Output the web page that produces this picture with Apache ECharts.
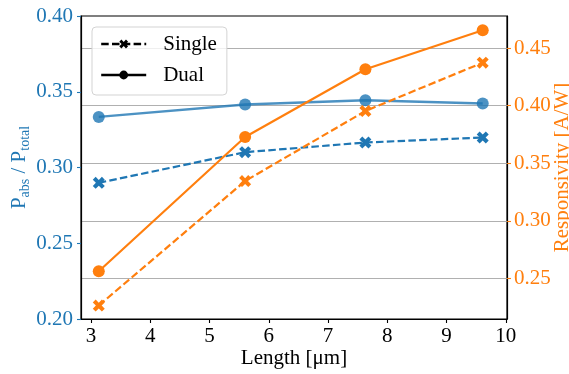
<!DOCTYPE html>
<html>
<head>
<meta charset="utf-8">
<script src="https://cdn.jsdelivr.net/npm/echarts@6/dist/echarts.min.js"></script>
<style>html,body{margin:0;padding:0;background:#fff}#c{width:569px;height:374px}</style>
</head>
<body>
<div id="c"></div>
<script>
const lengths = [3.13, 5.60, 7.63, 9.61];
const absDual = [0.3334, 0.3416, 0.3444, 0.3422];
const absSingle = [0.2899, 0.3101, 0.3165, 0.3198];
const respDual = [0.2562, 0.3727, 0.4315, 0.4654];
const respSingle = [0.2264, 0.3345, 0.3953, 0.4373];
const xTicks = [3, 4, 5, 6, 7, 8, 9, 10];
const leftTicks = [0.20, 0.25, 0.30, 0.35, 0.40];
const rightTicks = [0.25, 0.30, 0.35, 0.40, 0.45];
const legendNames = ['Single', 'Dual'];

const FONT = 'Liberation Serif';
const BLUE = '#1f77b4', ORANGE = '#ff7f0e';
const XSYM = 'path://M2.4,0L5,2.6L7.6,0L10,2.4L7.4,5L10,7.6L7.6,10L5,7.4L2.4,10L0,7.6L2.6,5L0,2.4Z';
const pair = ys => lengths.map((x, i) => [x, ys[i]]);
const fmt2 = v => Number(v).toFixed(2);

const chart = echarts.init(document.getElementById('c'), null, {renderer: 'canvas'});
chart.setOption({
  animation: false,
  textStyle: {fontFamily: FONT},
  grid: {left: 81, right: 62, top: 16, bottom: 55, outerBoundsMode: 'none', containLabel: false,
         show: true, borderColor: '#000', borderWidth: 1.2, backgroundColor: 'transparent'},
  legend: {
    orient: 'vertical', left: 92, top: 27,
    data: legendNames,
    selectedMode: false,
    itemWidth: 45, itemHeight: 11, itemGap: 9,
    padding: [6, 10, 9, 8],
    borderColor: '#d3d3d3', borderWidth: 1, borderRadius: 4,
    backgroundColor: 'rgba(255,255,255,0.8)',
    lineStyle: {width: 2.4},
    textStyle: {fontFamily: FONT, fontSize: 21, color: '#000', lineHeight: 22, padding: [0, 0, 0, 12]}
  },
  xAxis: {
    type: 'value', min: 2.83, max: 10.02,
    name: 'Length [μm]', nameLocation: 'middle', nameGap: 29, nameMoveOverlap: false,
    nameTextStyle: {fontFamily: FONT, fontSize: 21, color: '#000'},
    axisLine: {show: true, onZero: false, lineStyle: {color: '#000', width: 1.2}},
    axisTick: {show: true, length: 4, customValues: xTicks, lineStyle: {color: '#000', width: 1.1}},
    axisLabel: {customValues: xTicks, margin: 7, fontFamily: FONT, fontSize: 21, color: '#000'},
    splitLine: {show: false}
  },
  yAxis: [{
    type: 'value', min: 0.20, max: 0.40, position: 'left',
    name: '{m|P}{s|abs}{m| / P}{s|total}', nameLocation: 'middle', nameGap: 49, nameRotate: 90, nameMoveOverlap: false,
    nameTextStyle: {fontFamily: FONT, fontSize: 21, color: BLUE,
      rich: {m: {fontFamily: FONT, fontSize: 21, color: BLUE}, s: {fontFamily: FONT, fontSize: 14, color: BLUE, padding: [12, 0, 0, 0]}}},
    axisLine: {show: true, lineStyle: {color: '#000', width: 1.2}},
    axisTick: {show: true, length: 4, customValues: leftTicks, lineStyle: {color: BLUE, width: 1.1}},
    axisLabel: {customValues: leftTicks, margin: 8, formatter: fmt2, fontFamily: FONT, fontSize: 21, color: BLUE},
    splitLine: {show: false}
  }, {
    type: 'value', min: 0.2147, max: 0.4778, position: 'right',
    name: 'Responsivity [A/W]', nameLocation: 'middle', nameGap: 45, nameRotate: 90, nameMoveOverlap: false,
    nameTextStyle: {fontFamily: FONT, fontSize: 21, color: ORANGE},
    axisLine: {show: true, lineStyle: {color: '#000', width: 1.2}},
    axisTick: {show: true, length: 4, customValues: rightTicks, lineStyle: {color: ORANGE, width: 1.1}},
    axisLabel: {customValues: rightTicks, margin: 7, formatter: fmt2, fontFamily: FONT, fontSize: 21, color: ORANGE},
    splitLine: {show: true, lineStyle: {color: '#b0b0b0', width: 1.1}}
  }],
  series: [
    {name: 'absSingle', type: 'line', yAxisIndex: 0, data: pair(absSingle), symbol: XSYM, symbolSize: 12,
     lineStyle: {color: BLUE, width: 2.2, type: [7.5, 3.3]}, itemStyle: {color: BLUE}},
    {name: 'absDual', type: 'line', yAxisIndex: 0, data: pair(absDual), symbol: 'circle', symbolSize: 12,
     lineStyle: {color: BLUE, width: 2.4, opacity: 0.8}, itemStyle: {color: BLUE, opacity: 0.8}},
    {name: 'respSingle', type: 'line', yAxisIndex: 1, data: pair(respSingle), symbol: XSYM, symbolSize: 12,
     lineStyle: {color: ORANGE, width: 2.2, type: [7.5, 3.3]}, itemStyle: {color: ORANGE}},
    {name: 'respDual', type: 'line', yAxisIndex: 1, data: pair(respDual), symbol: 'circle', symbolSize: 12,
     lineStyle: {color: ORANGE, width: 2.2}, itemStyle: {color: ORANGE}},
    {name: legendNames[0], type: 'line', data: [], symbol: XSYM,
     lineStyle: {color: '#000', width: 2.2, type: [7.5, 3.3]}, itemStyle: {color: '#000'}},
    {name: legendNames[1], type: 'line', data: [], symbol: 'circle',
     lineStyle: {color: '#000', width: 2.2}, itemStyle: {color: '#000'}}
  ]
});
</script>
</body>
</html>
